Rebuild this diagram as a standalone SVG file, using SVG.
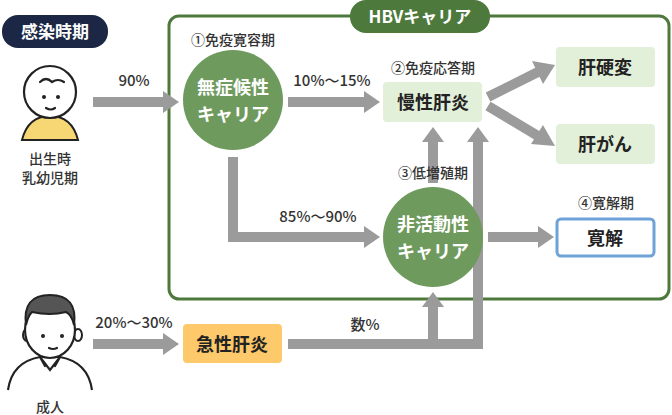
<svg xmlns="http://www.w3.org/2000/svg" width="672" height="415" viewBox="0 0 672 415">
<style>
text{font-family:"Noto Sans CJK JP","Noto Sans",sans-serif;text-anchor:middle;font-weight:700}
.lab{font-size:14px;fill:#333;font-weight:500}
.pct{font-size:15px;fill:#333;font-weight:500}
.box{font-size:18px;fill:#222}
.circ{font-size:18px;fill:#fff}
.ar{stroke:#9b9b9b;stroke-width:10;fill:none}
.ah{fill:#9b9b9b}
.ic{stroke:#222;stroke-width:2.2;fill:none;stroke-linecap:round}
</style>
<rect width="672" height="415" fill="#fff"/>
<g id="frame">
<rect x="169" y="16" width="500" height="283" rx="10" fill="none" stroke="#4d7a3c" stroke-width="3"/>
<rect x="350" y="0" width="140" height="33" rx="16" fill="#4d7a3c"/>
<text x="420" y="23" style="font-size:17px;fill:#fff">HBVキャリア</text>
</g>
<g id="badge"><rect x="2" y="15" width="106" height="33" rx="16" fill="#1b2744"/><text x="55" y="38" style="font-size:17px;fill:#fff">感染時期</text></g>
<g id="child">
<path d="M22 140 Q28 116 50 116 Q72 116 78 140 Z" fill="#f7d774" stroke="#222" stroke-width="2"/>
<circle cx="50" cy="92" r="26" fill="#fff" stroke="#222" stroke-width="2.2"/>
<path class="ic" d="M40 82 Q46 76 52 82 Q58 78 64 82"/>
<circle cx="44" cy="97" r="2" fill="#222"/><circle cx="58" cy="97" r="2" fill="#222"/>
<path class="ic" d="M46 108 Q51 111 55 108"/>
<text x="50" y="164" class="lab">出生時</text><text x="50" y="183" class="lab">乳幼児期</text>
</g>
<g id="adult">
<path d="M8 390 Q12 362 40 357 L60 357 Q88 362 92 390" fill="#fff" stroke="#222" stroke-width="2.2"/>
<path class="ic" d="M40 357 L50 370 L60 357 M40 357 L45 366 M60 357 L55 366" />
<ellipse cx="27" cy="335" rx="4" ry="6" fill="#fff" stroke="#222" stroke-width="2"/>
<ellipse cx="78" cy="335" rx="4" ry="6" fill="#fff" stroke="#222" stroke-width="2"/>
<ellipse cx="50" cy="330" rx="25" ry="28" fill="#fff" stroke="#222" stroke-width="2.2"/>
<path d="M26 325 Q22 295 50 295 Q78 295 74 325 Q72 315 66 312 Q50 316 32 312 Q28 316 26 325Z" fill="#555" stroke="#222" stroke-width="2"/>
<circle cx="43" cy="336" r="2" fill="#222"/><circle cx="62" cy="336" r="2" fill="#222"/>
<path class="ic" d="M49 348 Q53 350 57 348"/>
<text x="50" y="412" class="lab">成人</text>
</g>
<g id="connectors">
<path class="ar" d="M93 102H165"/><polygon class="ah" points="163,91 179,102 163,113"/>
<path class="ar" d="M288 102H366"/><polygon class="ah" points="364,91 380,102 364,113"/>
<path class="ar" d="M233 157V237H366"/><polygon class="ah" points="364,226 380,237 364,248"/>
<path class="ar" d="M433 183V140"/><polygon class="ah" points="422,142 433,127 444,142"/>
<path class="ar" d="M488 237H540"/><polygon class="ah" points="538,226 554,237 538,248"/>
<path class="ar" d="M488 97L538 72"/><polygon class="ah" points="532,61 555,65 543,84"/>
<path class="ar" d="M488 106L538 136"/><polygon class="ah" points="543,125 555,146 531,144"/>
<path class="ar" d="M93 344H165"/><polygon class="ah" points="163,333 179,344 163,355"/>
<path class="ar" d="M288 344H478V140"/><polygon class="ah" points="467,142 478,127 489,142"/>
<path class="ar" d="M433 344V305"/><polygon class="ah" points="422,307 433,292 444,307"/>
<text x="134" y="86" class="pct">90%</text>
<text x="332" y="86" class="pct">10%〜15%</text>
<text x="318" y="222" class="pct">85%〜90%</text>
<text x="134" y="328" class="pct">20%〜30%</text>
<text x="365" y="330" class="pct">数%</text>
</g>
<g id="n1"><circle cx="233" cy="100" r="50" fill="#6f9a5e"/><text x="233" y="94" class="circ">無症候性</text><text x="233" y="121" class="circ">キャリア</text><text x="233" y="45" class="lab">①免疫寛容期</text></g>
<g id="n2"><rect x="383" y="82" width="99" height="40" rx="4" fill="#e2efd9"/><text x="433" y="109" class="box">慢性肝炎</text><text x="433" y="73" class="lab">②免疫応答期</text></g>
<g id="n3"><circle cx="433" cy="237" r="50" fill="#6f9a5e"/><text x="433" y="231" class="circ">非活動性</text><text x="433" y="258" class="circ">キャリア</text><text x="433" y="178" class="lab">③低増殖期</text></g>
<g id="n4"><rect x="556" y="47" width="99" height="40" rx="4" fill="#e2efd9"/><text x="605" y="74" class="box">肝硬変</text></g>
<g id="n5"><rect x="556" y="124" width="99" height="40" rx="4" fill="#e2efd9"/><text x="605" y="151" class="box">肝がん</text></g>
<g id="n6"><rect x="557" y="219" width="97" height="37" rx="4" fill="#fff" stroke="#6fa3d8" stroke-width="3"/><text x="605" y="245" class="box">寛解</text><text x="606" y="208" class="lab">④寛解期</text></g>
<g id="n7"><rect x="183" y="324" width="99" height="39" rx="4" fill="#fdc96a"/><text x="232" y="351" class="box">急性肝炎</text></g>
</svg>
